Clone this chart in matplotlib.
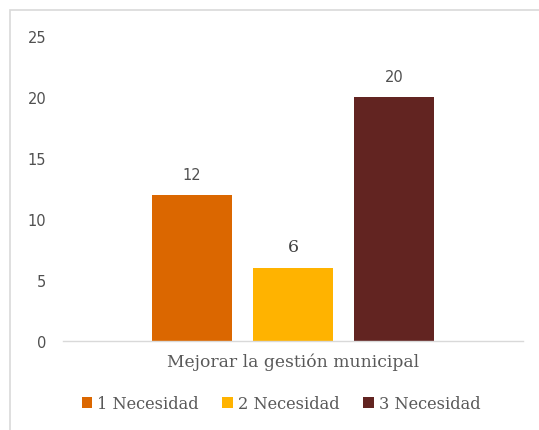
import matplotlib
matplotlib.use('Agg')
import matplotlib.pyplot as plt
from matplotlib.patches import Rectangle, Patch

category = 'Mejorar la gestión municipal'
series = ['1 Necesidad', '2 Necesidad', '3 Necesidad']
values = [12, 6, 20]
colors = ['#DB6700', '#FFB300', '#622421']
yticks = [0, 5, 10, 15, 20, 25]

txt = '#595959'

fig = plt.figure(figsize=(5.39, 4.31), dpi=100)
fig.patch.set_facecolor('white')

# chart frame (light gray, runs off the right edge)
fig.patches.append(Rectangle((10/539, -0.01), 1.0, (431-11)/431 + 0.01,
                             transform=fig.transFigure, fill=False,
                             edgecolor='#D9D9D9', linewidth=1.2))

ax = fig.add_axes([63/539, 89/431, 460/539, 305/431])

w = 0.79
xs = [-1, 0, 1]
bars = ax.bar(xs, values, width=w, color=colors, zorder=2)

for i, (x, v) in enumerate(zip(xs, values)):
    if v == 6:
        ax.annotate(str(v), (x, v), xytext=(0, 9), textcoords='offset points',
                    ha='center', va='bottom', fontsize=12.5, color='#404040',
                    family='DejaVu Serif')
    else:
        ax.annotate(str(v), (x, v), xytext=(0, 9), textcoords='offset points',
                    ha='center', va='bottom', fontsize=10.5, color='#505050',
                    family='DejaVu Sans')

ax.set_xlim(-2.28, 2.28)
ax.set_ylim(0, 25)
ax.set_yticks(yticks)
ax.set_yticklabels([str(t) for t in yticks], fontsize=10.5, color='#505050',
                   family='DejaVu Sans')
ax.tick_params(axis='y', length=0, pad=12)
ax.set_xticks([0])
ax.set_xticklabels([category], fontsize=12.3, color=txt, family='DejaVu Serif')
ax.tick_params(axis='x', length=0, pad=8)

for s in ['top', 'right', 'left']:
    ax.spines[s].set_visible(False)
ax.spines['bottom'].set_color('#D9D9D9')
ax.spines['bottom'].set_linewidth(1.0)

handles = [Patch(facecolor=c, label=s) for c, s in zip(colors, series)]
leg = fig.legend(handles=handles, loc='center', bbox_to_anchor=(281/539, 1 - 405/431),
                 ncol=3, frameon=False, handlelength=0.65, handleheight=0.65,
                 handletextpad=0.3, columnspacing=1.45,
                 prop={'family': 'DejaVu Serif', 'size': 11.7})
for t in leg.get_texts():
    t.set_color(txt)

fig.savefig('out.png', dpi=100)
